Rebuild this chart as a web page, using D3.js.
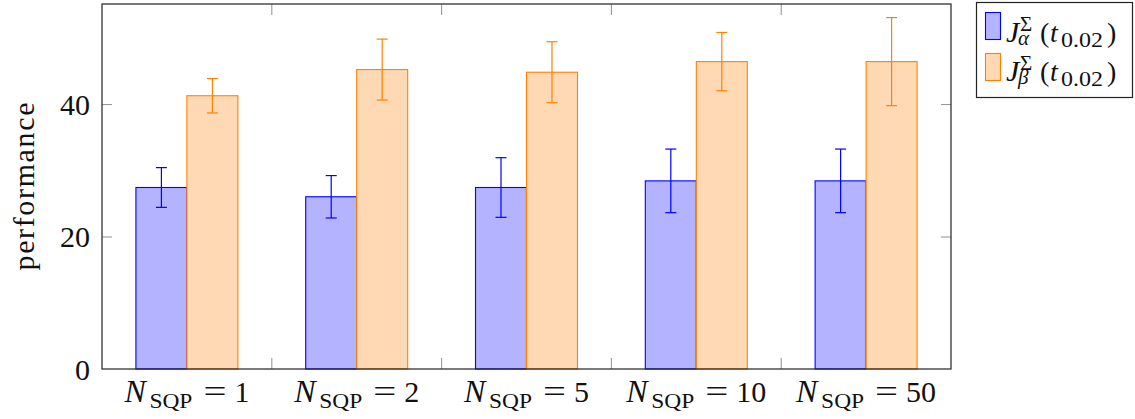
<!DOCTYPE html>
<html>
<head>
<meta charset="utf-8">
<script src="https://cdn.jsdelivr.net/npm/d3@7"></script>
<style>
  html, body { margin: 0; padding: 0; background: #fff; }
  svg text { font-family: "Liberation Serif", "Times New Roman", Tinos, "DejaVu Serif", "Noto Serif", serif; }
</style>
</head>
<body>
<svg id="chart" width="1135" height="419"></svg>
<script>
// N_SQP settings on the x axis
const categories = ["1", "2", "5", "10", "50"];
// J_alpha series: mean and error
const alphaValues = [27.4, 26.0, 27.4, 28.4, 28.4];
const alphaErrors = [3.0, 3.2, 4.5, 4.8, 4.8];
// J_beta series: mean and error
const betaValues = [41.25, 45.2, 44.8, 46.4, 46.4];
const betaErrors = [2.6, 4.6, 4.6, 4.4, 6.65];
const yTicks = [0, 20, 40];
const seriesKeys = ["alpha", "beta"];

const colors = {
  alpha: { stroke: "#0000ff", fill: "#b3b3ff" },
  beta: { stroke: "#ff8000", fill: "#ffd9b3" }
};
const serif = "'Liberation Serif', 'Times New Roman', Tinos, 'DejaVu Serif', 'Noto Serif', serif";

const svg = d3.select("#chart");
const plotLeft = 102, plotRight = 951, plotTop = 4, plotBottom = 369;

const x0 = d3.scaleBand().domain(categories).range([plotLeft, plotRight]).paddingInner(0).paddingOuter(0);
const x1 = d3.scaleBand().domain(seriesKeys).range([0, x0.bandwidth()]).paddingInner(0).paddingOuter(0.665);
const y = d3.scaleLinear().domain([0, 55.1]).range([plotBottom, plotTop]);

const rows = categories.map((c, i) => ({
  cat: c,
  items: [
    { key: "alpha", v: alphaValues[i], e: alphaErrors[i] },
    { key: "beta", v: betaValues[i], e: betaErrors[i] }
  ]
}));

// bars
const groups = svg.append("g").selectAll("g").data(rows).join("g")
  .attr("transform", d => `translate(${x0(d.cat)},0)`);

groups.selectAll("rect").data(d => d.items).join("rect")
  .attr("x", d => x1(d.key))
  .attr("y", d => y(d.v))
  .attr("width", x1.bandwidth())
  .attr("height", d => y(0) - y(d.v))
  .attr("fill", d => colors[d.key].fill)
  .attr("stroke", d => colors[d.key].stroke)
  .attr("stroke-width", 1.1);

// error bars
const capHalf = 5.5;
const eb = groups.selectAll("g.err").data(d => d.items).join("g").attr("class", "err")
  .attr("stroke", d => colors[d.key].stroke).attr("stroke-width", 1.2);
const cxOf = d => x1(d.key) + x1.bandwidth() / 2;
eb.append("line")
  .attr("x1", cxOf).attr("x2", cxOf)
  .attr("y1", d => y(d.v + d.e)).attr("y2", d => y(d.v - d.e));
eb.append("line")
  .attr("x1", d => cxOf(d) - capHalf).attr("x2", d => cxOf(d) + capHalf)
  .attr("y1", d => y(d.v + d.e)).attr("y2", d => y(d.v + d.e));
eb.append("line")
  .attr("x1", d => cxOf(d) - capHalf).attr("x2", d => cxOf(d) + capHalf)
  .attr("y1", d => y(d.v - d.e)).attr("y2", d => y(d.v - d.e));

// y axes (inward ticks on both sides)
const yAxisL = svg.append("g").attr("transform", `translate(${plotLeft},0)`)
  .call(d3.axisLeft(y).tickValues(yTicks).tickSizeInner(-10).tickSizeOuter(0).tickPadding(12));
const yAxisR = svg.append("g").attr("transform", `translate(${plotRight},0)`)
  .call(d3.axisRight(y).tickValues(yTicks.filter(v => v > 0)).tickSizeInner(-10).tickSizeOuter(0).tickFormat(""));
[yAxisL, yAxisR].forEach(a => {
  a.attr("font-family", serif);
  a.select(".domain").remove();
  a.selectAll(".tick line").attr("stroke", "#999").attr("stroke-width", 1.1);
});
yAxisL.selectAll(".tick text").attr("font-size", 30).attr("fill", "#111")
  .attr("font-family", serif).attr("dy", "0.34em");
yAxisL.selectAll(".tick").filter(d => d === 0).select("line").remove();

// x tick marks at the boundaries between categories (bottom and top)
const bounds = categories.slice(1).map(c => x0(c));
svg.append("g").selectAll("line").data(bounds).join("line")
  .attr("x1", d => d).attr("x2", d => d).attr("y1", plotBottom).attr("y2", plotBottom - 11)
  .attr("stroke", "#999").attr("stroke-width", 1.1);
svg.append("g").selectAll("line").data(bounds).join("line")
  .attr("x1", d => d).attr("x2", d => d).attr("y1", plotTop).attr("y2", plotTop + 11)
  .attr("stroke", "#999").attr("stroke-width", 1.1);

// frame
svg.append("rect").attr("x", plotLeft).attr("y", plotTop)
  .attr("width", plotRight - plotLeft).attr("height", plotBottom - plotTop)
  .attr("fill", "none").attr("stroke", "#222").attr("stroke-width", 1.2);

// width of a text run, measured with a throwaway element
function measure(str, size, italic) {
  const t = svg.append("text").attr("font-size", size).attr("font-family", serif)
    .attr("font-style", italic ? "italic" : "normal").text(str);
  const w = t.node().getComputedTextLength();
  t.remove();
  return w;
}

// x category labels: N_SQP = value, math-style spacing
categories.forEach(c => {
  const wC = measure(c, 30, false);
  const total = 110 + wC;
  const x = x0(c) + x0.bandwidth() / 2 - total / 2;
  const t = svg.append("text").attr("font-family", serif).attr("fill", "#111")
    .attr("y", 402).attr("font-size", 30);
  t.append("tspan").attr("x", x).attr("font-style", "italic").attr("font-size", 32).text("N");
  t.append("tspan").attr("x", x + 25).attr("dy", 6).attr("font-size", 22)
    .attr("textLength", 43).attr("lengthAdjust", "spacingAndGlyphs").text("SQP");
  t.append("tspan").attr("x", x + 79).attr("dy", -6).attr("font-size", 32)
    .attr("textLength", 23).attr("lengthAdjust", "spacingAndGlyphs").text("=");
  t.append("tspan").attr("x", x + 110).text(c);
});

// y axis title
svg.append("text")
  .attr("transform", `translate(34,${(plotTop + plotBottom) / 2}) rotate(-90)`)
  .attr("text-anchor", "middle").attr("font-size", 30).attr("fill", "#111")
  .attr("font-family", serif)
  .attr("textLength", 168).attr("lengthAdjust", "spacing")
  .text("performance");

// legend
const legend = svg.append("g");
legend.append("rect").attr("x", 976.5).attr("y", 2.5).attr("width", 156).attr("height", 95)
  .attr("fill", "#fff").attr("stroke", "#222").attr("stroke-width", 1.2);
const legendItems = [
  { key: "alpha", sub: "α", y0: 12, base: 42 },
  { key: "beta", sub: "β", y0: 53, base: 81 }
];
legendItems.forEach(it => {
  legend.append("rect").attr("x", 985.5).attr("y", it.y0 + 0.5).attr("width", 15).attr("height", 27)
    .attr("fill", colors[it.key].fill).attr("stroke", colors[it.key].stroke).attr("stroke-width", 1.1);
  const t = legend.append("text").attr("font-family", serif).attr("fill", "#111")
    .attr("y", it.base).attr("font-size", 28);
  t.append("tspan").attr("x", 1006).attr("font-style", "italic").attr("font-size", 30).text("J");
  t.append("tspan").attr("x", 1020).attr("dy", -11).attr("font-size", 21).text("Σ");
  t.append("tspan").attr("x", 1018).attr("dy", 14).attr("font-size", 21)
    .attr("font-style", "italic").text(it.sub);
  t.append("tspan").attr("x", 1040).attr("dy", -3).text("(");
  t.append("tspan").attr("x", 1050).attr("font-style", "italic").text("t");
  t.append("tspan").attr("x", 1061).attr("dy", 5).attr("font-size", 22)
    .attr("textLength", 42).attr("lengthAdjust", "spacingAndGlyphs").text("0.02");
  t.append("tspan").attr("x", 1107).attr("dy", -5).text(")");
});
</script>
</body>
</html>
